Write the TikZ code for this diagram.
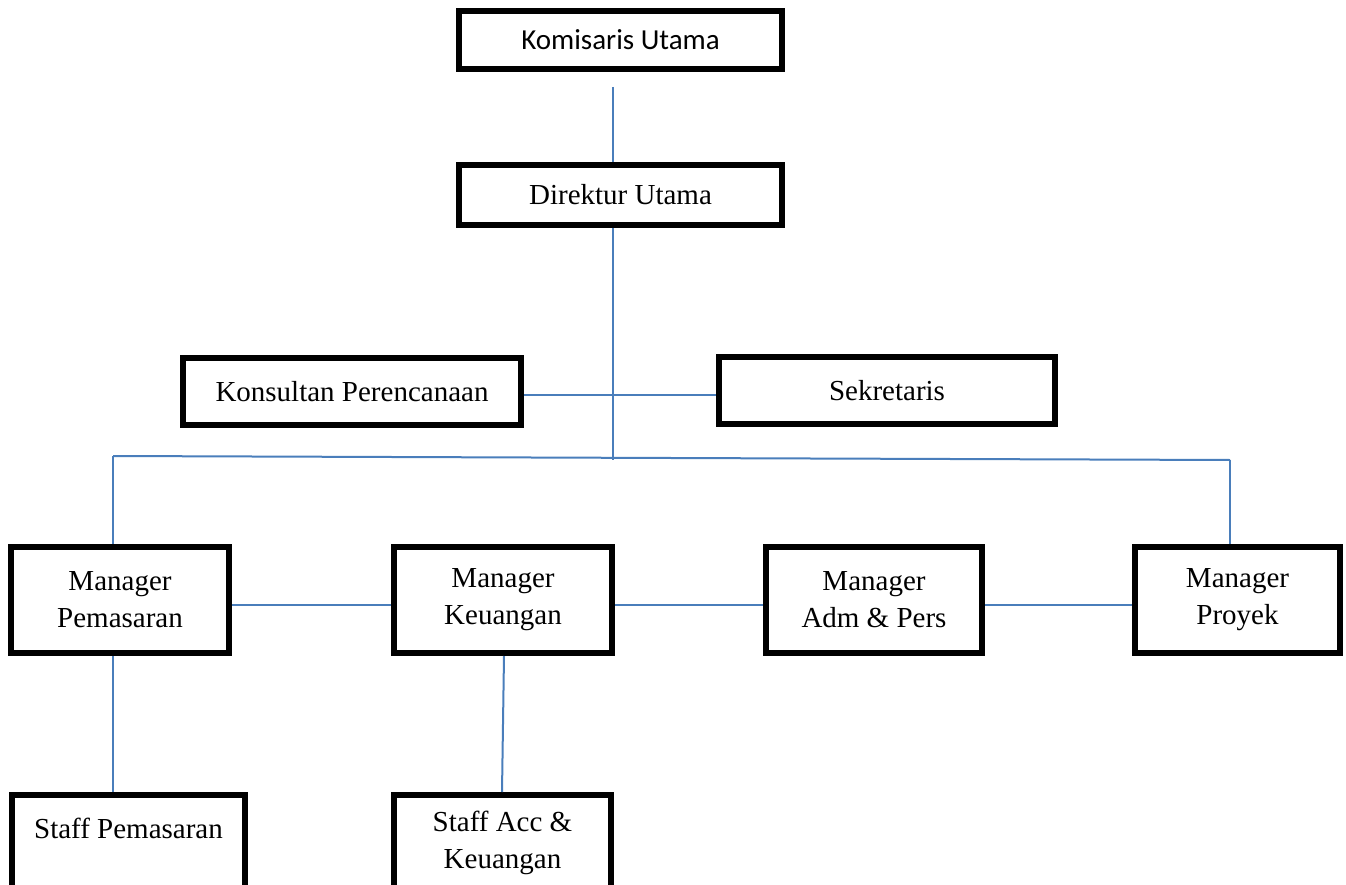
\documentclass[tikz,border=0pt]{standalone}
\usepackage{fontspec}
\setmainfont{Liberation Serif}
\newfontfamily\calibri{Carlito}
\usepackage{tikz}
\definecolor{linkblue}{HTML}{4A7EBB}

\begin{document}
\begin{tikzpicture}[x=1pt, y=-1pt]
        \useasboundingbox (0,0) rectangle (1346,885);
        \begin{scope}[every node/.style={draw, line width=6pt, inner sep=0, align=center, font=\fontsize{29}{37}\selectfont}]
                \node[minimum width=323pt, minimum height=58pt, font=\calibri\fontsize{29}{37}\selectfont] (KU) at (620.5,40) {Komisaris Utama};
                \node[minimum width=323pt, minimum height=60pt] (DU) at (620.5,195) {Direktur Utama};

                \node[minimum width=338pt, minimum height=67pt] (KP) at (352,391.5) {Konsultan Perencanaan};
                \node[minimum width=336pt, minimum height=67pt] (SE) at (887,390.5) {Sekretaris};

                \node[minimum width=218pt, minimum height=106pt] (MP) at (120,600) {Manager\\Pemasaran};
                \node[minimum width=218pt, minimum height=106pt] (MK) at (503,600) {Manager\\Keuangan};
                \node[minimum width=216pt, minimum height=106pt] (MA) at (874,600) {Manager\\Adm \& Pers};
                \node[minimum width=205pt, minimum height=106pt] (MPr) at (1237.5,600) {Manager\\Proyek};

                \node[minimum width=233pt, minimum height=150pt, anchor=north] (SP) at (128.5,792) {};
                \node[minimum width=217pt, minimum height=150pt, anchor=north] (SA) at (502.5,792) {};
        \end{scope}
        \begin{scope}[every node/.style={inner sep=0, align=center, font=\fontsize{29}{37}\selectfont}]
                \node (SPtext) at (128.5,828) {Staff Pemasaran};
                \node (SAtext) at (502.5,843) {Staff Acc \&\\Keuangan};
        \end{scope}
        \begin{scope}[every path/.style={draw=linkblue, line width=2pt}]
                \coordinate (busL) at (113,456);
                \coordinate (busR) at (1230,460);
                \coordinate (busM) at (613,460);

                \path ([xshift=-7.5pt,yshift=-15pt]KU.south) edge ([xshift=-7.5pt]DU.north);
                \path ([xshift=-7.5pt]DU.south) edge (busM);
                \path ([yshift=-3.5pt]KP.east) edge ([yshift=-3.5pt]KP.east -| SE.west);

                \path (busL) edge (busR);
                \path (busL) edge (busL |- MP.north);
                \path (busR) edge (busR |- MPr.north);

                \foreach \a/\b in {MP/MK, MK/MA, MA/MPr}
                        \path ([yshift=-5pt]\a.east) edge ([yshift=-5pt]\a.east -| \b.west);

                \path ([xshift=-7pt]MP.south) edge ([xshift=-7pt]MP.south |- SP.north);
                \path ([xshift=1pt]MK.south) edge ([xshift=-0.5pt]SA.north);
        \end{scope}
\end{tikzpicture}
\end{document}
